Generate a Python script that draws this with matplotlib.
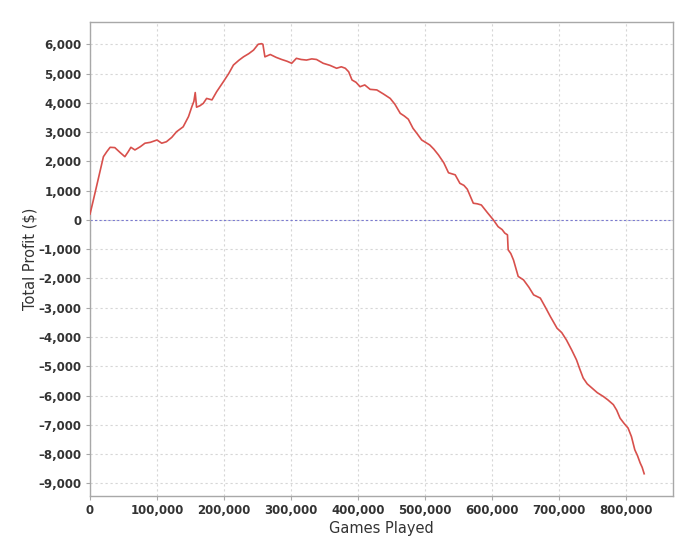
import numpy as np
import matplotlib.pyplot as plt
from matplotlib.ticker import FuncFormatter, MultipleLocator

# games played (x) and running total profit in $ (y)
games = [0, 5000, 12000, 20000, 25000, 30000, 37000, 45000, 52000, 57000, 61000,
         67000, 75000, 82000, 90000, 100000, 107000, 114000, 122000, 129000, 139000,
         147000, 152000, 155000, 157000, 159000, 164000, 169000, 174000, 182000,
         189000, 199000, 207000, 214000, 222000, 229000, 237000, 244000, 251000,
         256000, 258000, 261000, 269000, 278000, 286000, 294000, 301000, 308000,
         315000, 323000, 331000, 338000, 348000, 358000, 368000, 375000, 381000,
         386000, 391000, 397000, 403000, 410000, 418000, 428000, 438000, 448000,
         455000, 463000, 469000, 475000, 482000, 488000, 495000, 507000, 513000,
         520000, 528000, 535000, 545000, 552000, 558000, 563000, 572000, 578000,
         584000, 593000, 602000, 609000, 615000, 619000, 623000, 624000, 628000,
         632000, 639000, 647000, 655000, 662000, 672000, 680000, 687000, 697000,
         704000, 711000, 719000, 726000, 731000, 736000, 742000, 749000, 757000,
         766000, 773000, 781000, 786000, 791000, 797000, 803000, 808000, 813000,
         817000, 821000, 824000, 827000]
profit = [200, 680, 1370, 2160, 2330, 2480, 2470, 2300, 2160, 2330, 2480,
          2390, 2500, 2620, 2650, 2730, 2620, 2670, 2820, 3010, 3180,
          3530, 3870, 4050, 4350, 3850, 3900, 3980, 4150, 4100,
          4380, 4720, 5000, 5290, 5450, 5570, 5680, 5800, 6000,
          6020, 6000, 5570, 5650, 5550, 5480, 5420, 5350, 5520,
          5480, 5460, 5500, 5480, 5350, 5280, 5180, 5230, 5180,
          5060, 4780, 4700, 4550, 4610, 4460, 4440, 4300, 4150,
          3950, 3640, 3550, 3440, 3130, 2950, 2730, 2560, 2420,
          2220, 1950, 1610, 1540, 1250, 1180, 1050, 570, 550,
          510, 250, 0, -230, -330, -450, -510, -1020, -1150,
          -1370, -1930, -2050, -2300, -2560, -2670, -3000, -3300, -3700,
          -3850, -4100, -4450, -4780, -5100, -5400, -5600, -5740, -5900,
          -6030, -6150, -6310, -6500, -6770, -6950, -7110, -7400, -7850,
          -8050, -8300, -8450, -8670]

fig = plt.figure(figsize=(7.0, 5.38), dpi=100)
ax = fig.add_axes([0.1286, 0.0786, 0.8328, 0.8805])

ax.plot(games, profit, color='#d8504c', lw=1.2, zorder=3)
ax.axhline(0, color='#7b7bd0', lw=0.8, ls=(0, (2, 2)), zorder=2)

ax.set_xlim(0, 870000)
ax.set_ylim(-9420, 6760)
ax.xaxis.set_major_locator(MultipleLocator(100000))
ax.yaxis.set_major_locator(MultipleLocator(1000))
fmt = FuncFormatter(lambda v, p: '{:,.0f}'.format(v).replace('-', '\u2013'))
ax.xaxis.set_major_formatter(fmt)
ax.yaxis.set_major_formatter(fmt)

ax.grid(True, color='#d6d6d6', lw=0.8, ls=(0, (2, 2.5)), zorder=0)
for s in ax.spines.values():
    s.set_color('#a8a8a8')
    s.set_linewidth(1.0)
ax.tick_params(length=3, width=0.8, color='#a8a8a8', labelsize=8.5,
               labelcolor='#333333', pad=3)
for lab in ax.get_xticklabels() + ax.get_yticklabels():
    lab.set_fontweight('bold')

ax.set_xlabel('Games Played', fontsize=10.5, color='#333333', labelpad=3)
ax.set_ylabel('Total Profit ($)', fontsize=10.5, color='#333333', labelpad=1)

fig.savefig('out.png', dpi=100)
